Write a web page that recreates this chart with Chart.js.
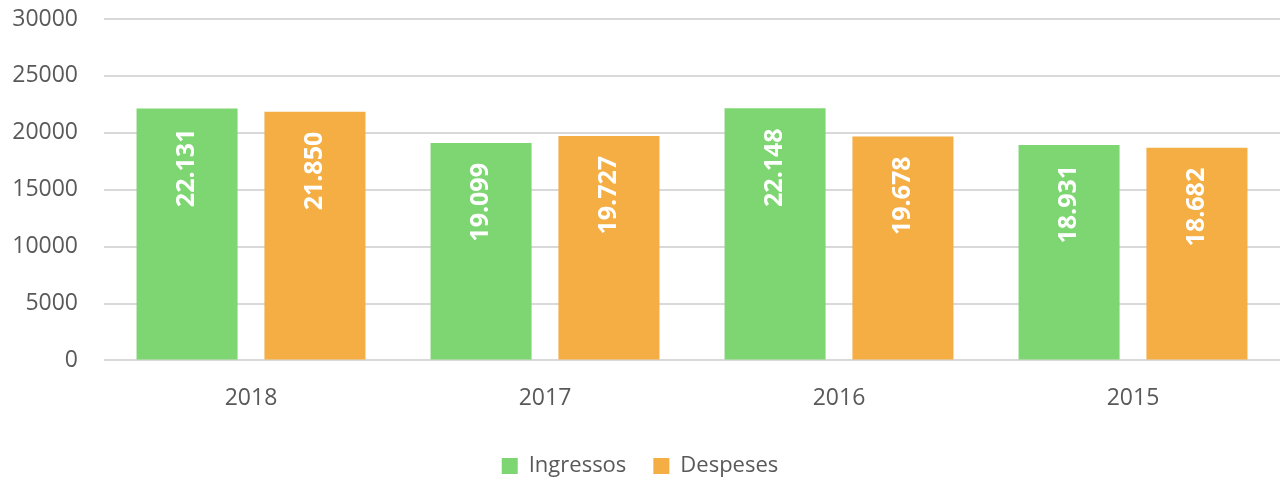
<!DOCTYPE html>
<html>
<head>
<meta charset="utf-8">
<script src="https://cdn.jsdelivr.net/npm/chart.js@4/dist/chart.umd.min.js"></script>
<style>
  html, body { margin: 0; padding: 0; background: #fff; }
  #wrap { width: 1284px; height: 480px; }
</style>
</head>
<body>
<div id="wrap"><canvas id="myChart"></canvas></div>
<script>
// years on the x axis
const years = ['2018', '2017', '2016', '2015'];
// values
const ingressos = [22131, 19099, 22148, 18931];
const despeses = [21850, 19727, 19678, 18682];
const yTicks = [0, 5000, 10000, 15000, 20000, 25000, 30000];

// format 22131 -> 22.131
function formatNum(v) {
    return String(v).replace(/\B(?=(\d{3})+(?!\d))/g, '.');
}

// draws the white rotated labels inside the bars
const barLabels = {
    id: 'barLabels',
    afterDatasetsDraw(chart) {
        const ctx = chart.ctx;
        ctx.save();
        ctx.fillStyle = '#ffffff';
        ctx.font = 'bold 25px "Open Sans"';
        chart.data.datasets.forEach((ds, i) => {
            chart.getDatasetMeta(i).data.forEach((bar, j) => {
                ctx.save();
                ctx.translate(bar.x, bar.y + 20);
                ctx.rotate(-Math.PI / 2);
                ctx.textAlign = 'right';
                ctx.textBaseline = 'middle';
                ctx.fillText(formatNum(ds.data[j]), 0, 0);
                ctx.restore();
            });
        });
        ctx.restore();
    }
};

const ctx = document.getElementById('myChart');
const chart = new Chart(ctx, {
    type: 'bar',
    data: {
        labels: years,
        datasets: [
            {
                label: 'Ingressos',
                data: ingressos,
                backgroundColor: '#7DD671',
                barPercentage: 0.79,
                categoryPercentage: 0.87
            },
            {
                label: 'Despeses',
                data: despeses,
                backgroundColor: '#F4AE44',
                barPercentage: 0.79,
                categoryPercentage: 0.87
            }
        ]
    },
    options: {
        responsive: true,
        maintainAspectRatio: false,
        animation: false,
        layout: { padding: { top: 19, right: 4, left: 0, bottom: -7 } },
        scales: {
            x: {
                grid: { display: false },
                border: { display: false },
                ticks: { color: '#595959', font: { family: 'Open Sans', size: 23 }, padding: 16 }
            },
            y: {
                min: 0,
                max: 30000,
                afterBuildTicks: (axis) => { axis.ticks = yTicks.map(v => ({ value: v })); },
                afterFit: (axis) => { axis.width = 104; axis.paddingTop = 0; },
                grid: { color: '#d9d9d9', lineWidth: 2, drawTicks: false },
                border: { display: false },
                ticks: {
                    color: '#595959',
                    font: { family: 'Open Sans', size: 23 },
                    padding: 26,
                    callback: (v) => String(v)
                }
            }
        },
        plugins: {
            legend: {
                position: 'bottom',
                labels: {
                    color: '#595959',
                    font: { family: 'Open Sans', size: 22 },
                    boxWidth: 16,
                    boxHeight: 16,
                    padding: 27
                }
            },
            tooltip: { enabled: false }
        }
    },
    plugins: [barLabels]
});
</script>
</body>
</html>
